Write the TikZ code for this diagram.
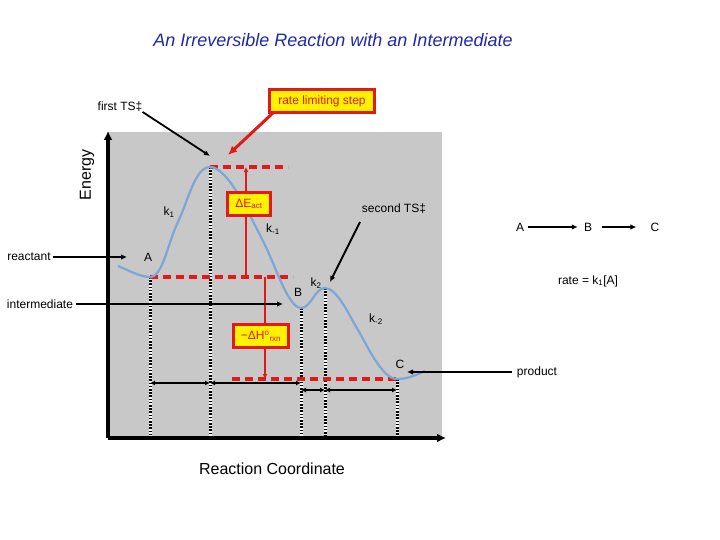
\documentclass[tikz,border=0pt]{standalone}
\usepackage{fontspec}
\setmainfont{Liberation Sans}
\usetikzlibrary{positioning,arrows.meta}

\definecolor{titleblue}{RGB}{30,40,170}
\definecolor{panelgray}{RGB}{200,200,200}
\definecolor{curveblue}{RGB}{125,165,215}
\definecolor{limred}{RGB}{225,25,25}

\tikzset{
  lbl/.style={font=\fontsize{12}{14}\selectfont, inner sep=0pt},
  pointer/.style={line width=1.8pt, -{Latex[length=6pt,width=5.5pt]}},
  levelline/.style={limred, line width=3.5pt, dash pattern=on 8pt off 5pt},
  dropline/.style={line width=3pt, dash pattern=on 1.6pt off 1.6pt},
  redbox/.style={draw=limred, line width=3pt, fill=yellow, text=limred,
    font=\fontsize{12}{14}\selectfont, inner sep=2pt, minimum height=23pt},
  redarrow/.style={limred, line width=2pt, -{Latex[length=5pt,width=5pt]}},
  span/.style={line width=1.3pt, {Latex[length=5pt,width=5pt]}-{Latex[length=5pt,width=5pt]}},
  axisline/.style={line width=3.2pt, -{Latex[length=9pt,width=9pt]}},
}

\begin{document}
\begin{tikzpicture}[x=1pt,y=-1pt]
    \useasboundingbox (0,0) rectangle (720,540);

    % Fondo del diagrama
    \fill[panelgray] (108,132) rectangle (442,438);

    % Puntos de la curva
    \coordinate (start) at (118,266);
    \coordinate (Amin) at (150,277);
    \coordinate (rise) at (178,222);
    \coordinate (ts1) at (210,167);
    \coordinate (fall) at (263,241);
    \coordinate (Bmin) at (301,308);
    \coordinate (ts2) at (325,288);
    \coordinate (drop) at (358,330);
    \coordinate (Cmin) at (397,379);
    \coordinate (finish) at (425,371);
    \coordinate (base) at (0,438);

    % Lineas punteadas verticales
    \foreach \p in {Amin,ts1,Bmin,ts2,Cmin}{
        \draw[white, line width=3pt] (\p) -- (\p |- base);
        \draw[dropline] (\p) -- (\p |- base);
    }

    % Niveles de energia
    \coordinate (ts1end) at (288,167);
    \coordinate (reacend) at (293,277);
    \coordinate (prodstart) at (232,379);
    \draw[levelline] (ts1) -- (ts1end);
    \draw[levelline] (Amin) -- (reacend);
    \draw[levelline] (prodstart) -- (Cmin);

    % Curva de energia
    \draw[curveblue, line width=2.2pt] (start)
        .. controls (128,270) and (140,277) .. (Amin)
        .. controls (163,277) and (168,242) .. (rise)
        .. controls (188,201) and (195,167) .. (ts1)
        .. controls (228,167) and (249,214) .. (fall)
        .. controls (275,264) and (288,308) .. (Bmin)
        .. controls (311,308) and (315,288) .. (ts2)
        .. controls (337,288) and (349,315) .. (drop)
        .. controls (367,345) and (382,379) .. (Cmin)
        .. controls (408,379) and (416,375) .. (finish);

    % Ejes
    \coordinate (origin) at (108,438);
    \coordinate (ytip) at (108,131);
    \coordinate (xtip) at (446,438);
    \draw[axisline] (origin) -- (ytip);
    \draw[axisline] (origin) -- (xtip);

    % Intervalos
    \coordinate (row1) at (0,383);
    \coordinate (row2) at (0,390);
    \draw[span] (Amin |- row1) -- (ts1 |- row1);
    \draw[span] (ts1 |- row1) -- (Bmin |- row1);
    \draw[span] (Bmin |- row2) -- (ts2 |- row2);
    \draw[span] (ts2 |- row2) -- (Cmin |- row2);

    % Energia de activacion
    \coordinate (eabot) at (246,277);
    \coordinate (eatop) at (246,167);
    \draw[redarrow] (eabot) -- (eatop);
    \node[redbox, minimum width=43pt] (eabox) at (249,204) {ΔE\textsubscript{act}};

    % Entalpia de reaccion
    \coordinate (dhtop) at (265,277);
    \coordinate (dhbot) at (265,379);
    \draw[redarrow] (dhtop) -- (dhbot);
    \node[redbox, minimum width=55pt] (dhbox) at (261,336) {−ΔH\textsuperscript{o}\textsubscript{rxn}};

    % Paso limitante
    \coordinate (rlstail) at (274,112);
    \coordinate (rlstip) at (228,155);
    \draw[limred, line width=3pt, -{Latex[length=9pt,width=8pt]}] (rlstail) -- (rlstip);
    \node[redbox, minimum width=105pt] (rls) at (322,101) {rate limiting step};

    % Estados de transicion
    \node[lbl] (firstts) at (120,107) {first TS‡};
    \coordinate (firsttip) at (210,156);
    \draw[pointer] (firstts.south east) -- (firsttip);

    \node[lbl] (secondts) at (394,209) {second TS‡};
    \coordinate (secondtail) at (360,222);
    \coordinate (secondtip) at (330,282);
    \draw[pointer] (secondtail) -- (secondtip);

    % Especies
    \node[lbl] (reactant) at (29,257) {reactant};
    \coordinate (reactip) at (127,257);
    \draw[pointer, shorten <=2pt] (reactant) -- (reactip);

    \node[lbl] (intermediate) at (40,304) {intermediate};
    \coordinate (intertip) at (283,304);
    \draw[pointer, shorten <=3pt] (intermediate) -- (intertip);

    \node[lbl] (product) at (537,372) {product};
    \coordinate (prodtip) at (407,372);
    \draw[pointer, shorten <=5pt] (product) -- (prodtip);

    \node[lbl] (labA) at (148,257) {A};
    \node[lbl] (labB) at (298,292) {B};
    \node[lbl] (labC) at (400,364) {C};

    % Constantes de velocidad
    \node[lbl] (kf1) at (169,212) {k\textsubscript{1}};
    \node[lbl] (kb1) at (273,229) {k\textsubscript{-1}};
    \node[lbl] (kf2) at (316,283) {k\textsubscript{2}};
    \node[lbl] (kb2) at (376,319) {k\textsubscript{-2}};

    % Esquema de reaccion
    \node[lbl] (schA) at (520,227) {A};
    \node[lbl] (schB) at (588,227) {B};
    \node[lbl] (schC) at (655,227) {C};
    \draw[pointer, shorten <=4pt, shorten >=6pt] (schA) -- (schB);
    \draw[pointer, shorten <=10pt, shorten >=14pt] (schB) -- (schC);
    \node[lbl] (rate) at (588,281) {rate = k\textsubscript{1}[A]};

    % Titulos
    \node[font=\fontsize{18}{21}\selectfont\itshape, text=titleblue] (title) at (333,40)
        {An Irreversible Reaction with an Intermediate};
    \node[font=\fontsize{16}{19}\selectfont, rotate=90] (energy) at (87,175) {Energy};
    \node[font=\fontsize{16}{19}\selectfont] (xlabel) at (272,469) {Reaction Coordinate};
\end{tikzpicture}
\end{document}
